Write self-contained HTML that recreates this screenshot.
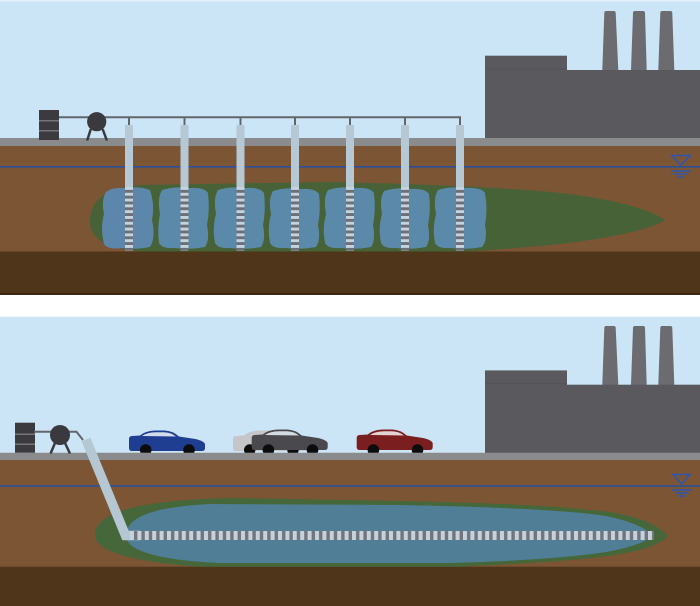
<!DOCTYPE html>
<html><head><meta charset="utf-8"><style>
html,body{margin:0;padding:0;background:#fff;}
svg{display:block;}
</style></head><body>
<svg width="700" height="606" viewBox="0 0 700 606" xmlns="http://www.w3.org/2000/svg">
<defs>
<pattern id="vs" x="0" y="187" width="700" height="5.8" patternUnits="userSpaceOnUse">
<rect width="700" height="5.8" fill="#c4d3de"/><rect y="2.9" width="700" height="2.9" fill="#6e6e76"/>
</pattern>
<pattern id="hs" x="130" y="0" width="7.4" height="606" patternUnits="userSpaceOnUse">
<rect width="7.4" height="606" fill="#c3d2dd"/><rect x="4" width="3.4" height="606" fill="#74747c"/>
</pattern>
<g id="car">
<path d="M0,8 Q0,5 3,5 L11,4.5 Q16,0 26,-0.5 L36,-0.5 Q44,0 50,5.5 L63,7.5 Q74,9 76,13 L76,17 Q76,20 73,20 L3,20 Q0,20 0,17 Z"/>
</g>
</defs>

<!-- ============ TOP PANEL ============ -->
<rect x="0" y="0" width="700" height="138" fill="#cbe5f7"/>
<rect x="0" y="0" width="700" height="1.5" fill="#e4f0fa"/>
<g fill="#6c6b6f">
<path d="M602.3,70 L604.3,13 Q604.3,11 606.3,11 L613.7,11 Q615.7,11 615.7,13 L618.3,70 Z"/>
<path d="M631,70 L633,13 Q633,11 635,11 L643,11 Q645,11 645,13 L646.7,70 Z"/>
<path d="M658.3,70 L660.3,13 Q660.3,11 662.3,11 L670.3,11 Q672.3,11 672.3,13 L674.3,70 Z"/>
</g>
<rect x="485" y="55.7" width="82" height="83" fill="#5a595d"/>
<rect x="485" y="68.5" width="82" height="1" fill="#525155"/>
<rect x="567" y="70" width="133" height="69" fill="#5a595d"/>
<rect x="0" y="138" width="700" height="8" fill="#8a8b8d"/>
<rect x="0" y="146" width="700" height="106" fill="#7c5535"/>
<rect x="0" y="251.5" width="700" height="42.5" fill="#4f3519"/>
<rect x="0" y="293" width="700" height="2" fill="#3c2812"/>
<rect x="0" y="166" width="700" height="1.6" fill="#2c4f9c"/>
<g stroke="#2c56b0" stroke-width="1.5" fill="none">
<path d="M671.7,155.5 L690,155.5 L680.8,165.3 Z"/>
<line x1="670.7" y1="171" x2="690.7" y2="171"/>
<line x1="674" y1="174" x2="687" y2="174"/>
<line x1="677" y1="177" x2="684" y2="177"/>
</g>
<path d="M90,222 C90,200 105,188 140,185 L330,182 C420,184 500,187 560,193 C620,200 650,210 665,220 C650,230 610,238 560,244 C520,248 490,250 470,251.5 L140,251.5 C105,248 90,238 90,222 Z" fill="#466236"/>
<g fill="#5a89aa">
<path d="M106,192 Q112,187 125,188 Q140,186 150,190 Q155,205 152,220 Q156,238 150,247 Q135,250 122,248 Q108,250 104,244 Q100,228 104,214 Q101,200 106,192 Z" fill="#5c87ab"/>
<path d="M162,190 Q175,186 190,188 Q204,187 208,193 Q210,210 207,225 Q210,240 205,247 Q190,250 175,248 Q162,249 159,243 Q157,228 160,214 Q157,198 162,190 Z"/>
<path d="M218,190 Q230,186 246,188 Q260,187 264,193 Q266,210 263,225 Q266,240 261,247 Q246,250 231,248 Q218,249 215,243 Q212,228 216,214 Q213,198 218,190 Z"/>
<path d="M273,191 Q285,187 301,189 Q315,188 319,194 Q321,210 318,225 Q321,240 316,247 Q301,250 286,248 Q273,249 270,243 Q267,228 271,214 Q268,199 273,191 Z"/>
<path d="M328,190 Q340,186 356,188 Q370,187 374,193 Q376,210 373,225 Q376,240 371,247 Q356,250 341,248 Q328,249 325,243 Q322,228 326,214 Q323,198 328,190 Z"/>
<path d="M384,191 Q396,187 411,189 Q425,188 429,194 Q431,210 428,225 Q431,240 426,247 Q411,250 396,248 Q384,249 381,243 Q378,228 382,214 Q379,199 384,191 Z"/>
<path d="M438,190 Q450,186 466,188 Q481,187 485,193 Q488,210 485,225 Q488,240 482,247 Q466,250 451,248 Q438,249 435,243 Q432,228 436,214 Q433,198 438,190 Z"/>
</g>
<g stroke="#62666b" stroke-width="2" fill="none">
<line x1="58" y1="117.3" x2="461" y2="117.3"/>
<line x1="129" y1="117" x2="129" y2="126"/>
<line x1="184.5" y1="117" x2="184.5" y2="126"/>
<line x1="240.5" y1="117" x2="240.5" y2="126"/>
<line x1="295" y1="117" x2="295" y2="126"/>
<line x1="350" y1="117" x2="350" y2="126"/>
<line x1="405" y1="117" x2="405" y2="126"/>
<line x1="460" y1="117" x2="460" y2="126"/>
</g>
<g fill="#b5c8d4">
<rect x="125" y="125" width="8" height="62"/>
<rect x="180.5" y="125" width="8" height="62"/>
<rect x="236.5" y="125" width="8" height="62"/>
<rect x="291" y="125" width="8" height="62"/>
<rect x="346" y="125" width="8" height="62"/>
<rect x="401" y="125" width="8" height="62"/>
<rect x="456" y="125" width="8" height="62"/>
</g>
<g fill="url(#vs)">
<rect x="125" y="187" width="8" height="64"/>
<rect x="180.5" y="187" width="8" height="64"/>
<rect x="236.5" y="187" width="8" height="64"/>
<rect x="291" y="187" width="8" height="64"/>
<rect x="346" y="187" width="8" height="64"/>
<rect x="401" y="187" width="8" height="64"/>
<rect x="456" y="187" width="8" height="64"/>
</g>
<rect x="39" y="110" width="20" height="30" fill="#3b3a3e"/>
<rect x="39" y="120" width="20" height="1.5" fill="#75757a"/>
<rect x="39" y="130" width="20" height="1.5" fill="#75757a"/>
<g stroke="#3a393d" stroke-width="2.5" stroke-linecap="round">
<line x1="90.5" y1="130" x2="87.5" y2="139.5"/>
<line x1="103" y1="130" x2="106.5" y2="139.5"/>
</g>
<circle cx="96.7" cy="121.7" r="9.6" fill="#3a393d"/>

<!-- ============ BOTTOM PANEL ============ -->
<rect x="0" y="316.7" width="700" height="136" fill="#cbe5f7"/>
<g fill="#6c6b6f">
<path d="M602.3,385 L604.3,328 Q604.3,326 606.3,326 L613.7,326 Q615.7,326 615.7,328 L618.3,385 Z"/>
<path d="M631,385 L633,328 Q633,326 635,326 L643,326 Q645,326 645,328 L646.7,385 Z"/>
<path d="M658.3,385 L660.3,328 Q660.3,326 662.3,326 L670.3,326 Q672.3,326 672.3,328 L674.3,385 Z"/>
</g>
<rect x="485" y="370.4" width="82" height="83" fill="#5a595d"/>
<rect x="485" y="383.2" width="82" height="1" fill="#525155"/>
<rect x="567" y="384.7" width="133" height="69" fill="#5a595d"/>
<g fill="#c6c6c8"><use href="#car" transform="translate(233,431)"/></g>
<circle cx="249.7" cy="450" r="5.7" fill="#0c0c0c"/>
<circle cx="293" cy="450" r="5.7" fill="#0c0c0c"/>
<g fill="#4a4a4e"><use href="#car" transform="translate(251.7,430)"/></g>
<path d="M265,435 Q270,431.5 279,431.3 L287,431.3 Q294,431.5 299,435.5 Z" fill="#d3dbe2"/>
<circle cx="268.4" cy="450" r="5.8" fill="#0c0c0c"/>
<circle cx="312.5" cy="450" r="5.8" fill="#0c0c0c"/>
<g fill="#1f3d91"><use href="#car" transform="translate(129,431)"/></g>
<path d="M142,436 Q147,432.5 156,432.3 L164,432.3 Q171,432.5 176,436.5 Z" fill="#d3dcec"/>
<circle cx="145.7" cy="450" r="5.8" fill="#0c0c0c"/>
<circle cx="189" cy="450" r="5.8" fill="#0c0c0c"/>
<g fill="#7b1e1f"><use href="#car" transform="translate(356.7,430)"/></g>
<path d="M370,435 Q375,431.5 384,431.3 L392,431.3 Q399,431.5 404,435.5 Z" fill="#e4d3d4"/>
<circle cx="373.4" cy="450" r="5.8" fill="#0c0c0c"/>
<circle cx="417.5" cy="450" r="5.8" fill="#0c0c0c"/>
<rect x="0" y="452.7" width="700" height="7.5" fill="#8a8b8d"/>
<rect x="0" y="460" width="700" height="107" fill="#7c5535"/>
<rect x="0" y="566.7" width="700" height="39.3" fill="#4f3519"/>
<rect x="0" y="485.2" width="700" height="1.6" fill="#2c4f9c"/>
<g stroke="#2c56b0" stroke-width="1.5" fill="none">
<path d="M673,474.5 L690,474.5 L681.5,484 Z"/>
<line x1="672" y1="490" x2="692" y2="490"/>
<line x1="675.5" y1="493" x2="688.5" y2="493"/>
<line x1="678.5" y1="496" x2="685.5" y2="496"/>
</g>
<path d="M95,535 C95,512 140,500 230,498 L400,501 C500,503 560,506 610,512 C645,518 660,527 668,536 C660,545 640,552 600,557 C560,562 510,564 460,566.7 L200,566.7 C150,563 95,555 95,535 Z" fill="#45673a"/>
<path d="M126,536 C126,518 150,507 210,504 L400,505 C500,507 560,510 600,515 C630,520 645,528 654,536 C640,545 620,550 600,553 C560,558 520,561 450,563 L220,563 C170,561 126,553 126,536 Z" fill="#4f7e96"/>
<polyline points="86,439.5 125.5,535.5 140,535.5" fill="none" stroke="#b4c7d3" stroke-width="9.5" stroke-linejoin="miter"/>
<rect x="130" y="531" width="524" height="9" fill="url(#hs)"/>
<rect x="15" y="422.7" width="20" height="30" fill="#3b3a3e"/>
<rect x="15" y="433.5" width="20" height="1.5" fill="#75757a"/>
<rect x="15" y="443.5" width="20" height="1.5" fill="#75757a"/>
<g stroke="#62666b" stroke-width="2" fill="none">
<line x1="34" y1="431.7" x2="52" y2="431.7"/>
<polyline points="68,431.7 76.5,431.7 83,440"/>
</g>
<g stroke="#3a393d" stroke-width="2.5" stroke-linecap="round">
<line x1="55" y1="443" x2="51" y2="452.5"/>
<line x1="65" y1="443" x2="69.5" y2="452.5"/>
</g>
<circle cx="60" cy="435" r="10" fill="#3a393d"/>
</svg>
</body></html>
